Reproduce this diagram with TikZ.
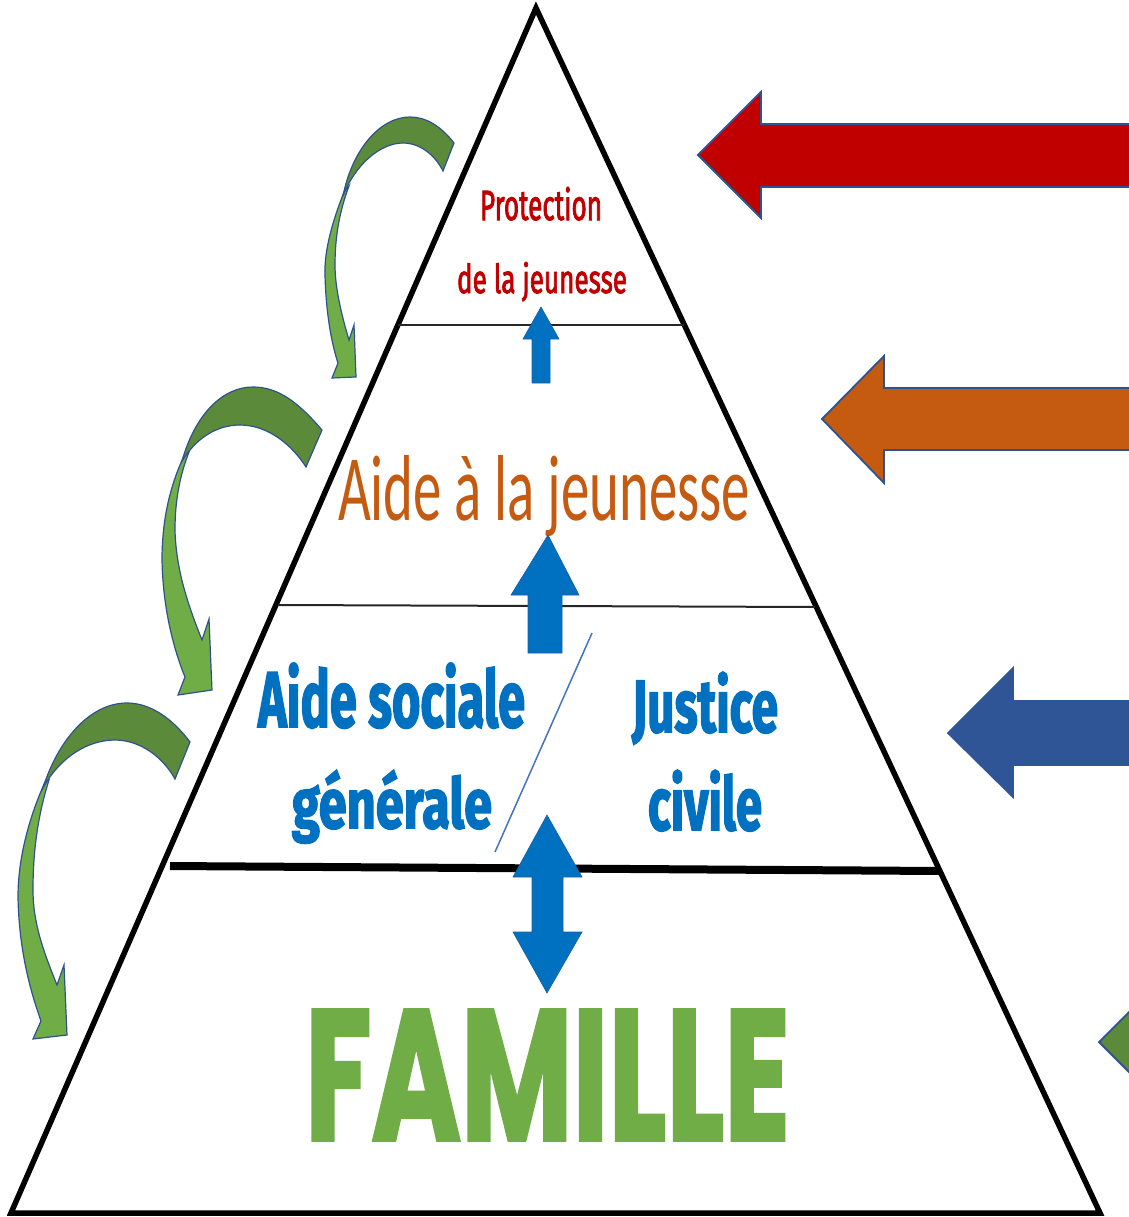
\documentclass[tikz,border=0pt]{standalone}
\usepackage{fontspec}
\usepackage{graphicx}
\setmainfont{Fira Sans}
\newfontfamily\condfont{Fira Sans}[FakeBold=2.5]
\newfontfamily\heavyfont{Fira Sans}[FakeBold=2.5]
\newfontfamily\famfont{Poppins}[FakeBold=2]
\newfontfamily\lightfont{Carlito}
\definecolor{pyrred}{HTML}{C00000}
\definecolor{pyrorange}{HTML}{C55A11}
\definecolor{pyrblue}{HTML}{0070C0}
\definecolor{pyrgreen}{HTML}{70AD47}
\definecolor{pyrdkgreen}{HTML}{5B8A3A}
\definecolor{pyrnavy}{HTML}{2F5597}
\definecolor{pyroutline}{HTML}{2F528F}
\definecolor{pyrslash}{HTML}{4472C4}
\tikzset{
  tri/.style={draw=black, line width=5.5pt, line join=miter},
  thinsep/.style={draw=black!85, line width=2pt},
  thicksep/.style={draw=black, line width=8pt},
  slashline/.style={draw=pyrslash, line width=1.5pt},
  blockarrow/.style={draw=pyroutline, line width=1.8pt, line join=miter},
  bluearrow/.style={fill=pyrblue, draw=pyroutline!60!pyrblue, line width=0.6pt, line join=miter},
  curvedark/.style={fill=pyrdkgreen, draw=pyroutline, line width=1.2pt},
  curvelight/.style={fill=pyrgreen, draw=pyroutline, line width=1.2pt, line join=miter},
  lbl/.style={inner sep=0pt, outer sep=0pt, anchor=base west}
}
\begin{document}
\begin{tikzpicture}[x=1pt,y=-1pt]
\useasboundingbox (0,0) rectangle (1128,1217);
\fill[white] (0,0) rectangle (1128,1217);

% pyramid
\draw[tri] (536,8) -- (1100,1213) -- (11,1213) -- cycle;
\draw[thinsep] (398,325) -- (684,325);
\draw[thinsep] (278,605) -- (815,607);
\draw[thicksep] (170,866) -- (940,871);
\draw[slashline] (592,633) -- (495,852);

% texts
\node[lbl, text=pyrred] (prot1) at (480,220) {\resizebox{122pt}{33pt}{\condfont Protection}};
\node[lbl, text=pyrred] (prot2) at (457,293) {\resizebox{170pt}{31pt}{\condfont de la jeunesse}};
\node[lbl, text=pyrorange] (aide) at (338,520) {\resizebox{412pt}{65pt}{\lightfont Aide à la jeunesse}};
\node[lbl, text=pyrblue] (soc1) at (258,727) {\resizebox{267pt}{64pt}{\heavyfont\bfseries Aide sociale}};
\node[lbl, text=pyrblue] (soc2) at (292,828) {\resizebox{200pt}{58pt}{\heavyfont\bfseries générale}};
\node[lbl, text=pyrblue] (jus1) at (632,732) {\resizebox{146pt}{60pt}{\heavyfont\bfseries Justice}};
\node[lbl, text=pyrblue] (jus2) at (648,830) {\resizebox{114pt}{60pt}{\heavyfont\bfseries civile}};
\node[lbl, text=pyrgreen] (fam) at (305,1140) {\resizebox{485pt}{130pt}{\famfont\bfseries FAMILLE}};

% blue arrows in the pyramid
\filldraw[bluearrow] (541,307) -- (559,339) -- (550,339) -- (550,383) -- (532,383) -- (532,339) -- (523,339) -- cycle;
\filldraw[bluearrow] (548,535) -- (579,595) -- (562,595) -- (562,653) -- (528,653) -- (528,595) -- (511,595) -- cycle;
\filldraw[bluearrow] (547,815) -- (582,877) -- (563,877) -- (563,932) -- (582,932) -- (547,993) -- (513,932) -- (532,932) -- (532,877) -- (513,877) -- cycle;

% right block arrows
\filldraw[blockarrow, fill=pyrred] (698,155) -- (761,92) -- (761,124) -- (1135,124) -- (1135,187) -- (761,187) -- (761,218) -- cycle;
\filldraw[blockarrow, fill=pyrorange] (822,419) -- (884,356) -- (884,388) -- (1135,388) -- (1135,450) -- (884,450) -- (884,483) -- cycle;
\filldraw[blockarrow, fill=pyrnavy, draw=pyrnavy] (948,733) -- (1013,668) -- (1013,701) -- (1135,701) -- (1135,765) -- (1013,765) -- (1013,797) -- cycle;
\filldraw[blockarrow, fill=pyrdkgreen] (1099,1042) -- (1162,979) -- (1162,1105) -- cycle;

% curved arrow 1
\filldraw[curvelight] (344,192) .. controls (333,220) and (324,250) .. (325,275) .. controls (326,315) and (332,345) .. (338,363) -- (332,378) -- (356,377) -- (354,325) -- (349,340) .. controls (340,310) and (335,285) .. (335,265) .. controls (335,235) and (340,210) .. (349,186) -- cycle;
\filldraw[curvedark] (454,143) .. controls (440,125) and (425,117) .. (410,117) .. controls (380,117) and (352,150) .. (343,196) .. controls (355,165) and (380,143) .. (403,143) .. controls (420,143) and (435,155) .. (443,171) -- cycle;

% curved arrow 2
\filldraw[curvelight] (184,456) .. controls (168,490) and (162,525) .. (162,560) .. controls (163,610) and (174,650) .. (185,677) -- (178,695) -- (212,690) -- (209,619) -- (202,640) .. controls (188,605) and (176,570) .. (175,530) .. controls (175,500) and (180,475) .. (189,452) -- cycle;
\filldraw[curvedark] (322,430) .. controls (298,402) and (278,387) .. (253,387) .. controls (222,387) and (195,415) .. (182,461) .. controls (195,440) and (215,425) .. (240,425) .. controls (268,425) and (292,445) .. (306,467) -- cycle;

% curved arrow 3
\filldraw[curvelight] (45,782) .. controls (28,820) and (18,860) .. (18,897) .. controls (19,950) and (30,990) .. (41,1021) -- (33,1039) -- (67,1035) -- (64,965) -- (57,985) .. controls (45,955) and (33,925) .. (33,890) .. controls (33,850) and (38,815) .. (49,780) -- cycle;
\filldraw[curvedark] (190,742) .. controls (172,718) and (150,703) .. (127,703) .. controls (90,703) and (58,740) .. (43,788) .. controls (60,757) and (88,740) .. (115,740) .. controls (140,740) and (163,757) .. (175,779) -- cycle;
\end{tikzpicture}
\end{document}
